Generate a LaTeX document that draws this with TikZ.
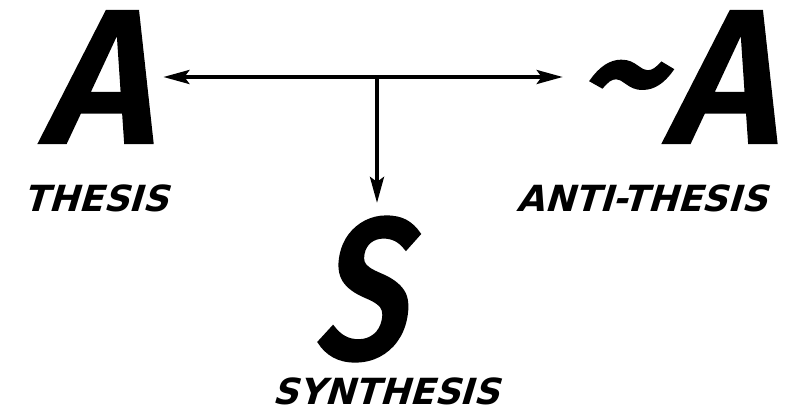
\documentclass[tikz,border=0pt]{standalone}
\usepackage{fontspec}
\newfontfamily\brushfont{Fira Sans}[UprightFont={* Medium}, FakeSlant=0.2, FakeBold=1.5]
\newfontfamily\handfont{DejaVu Sans}[UprightFont={* Bold}, FakeSlant=0.3]
\usetikzlibrary{positioning,arrows.meta,calc}

\begin{document}
\begin{tikzpicture}[
    x=1pt, y=-1pt,
    bigletter/.style={inner sep=0pt, outer sep=0pt, font=\brushfont\fontsize{190}{190}\selectfont},
    caption/.style={inner sep=0pt, font=\handfont\fontsize{36}{36}\selectfont},
    tip/.style={-{Stealth[length=26pt, width=14pt, inset=5pt]}},
    arrow/.style={line width=3.6pt},
]
\useasboundingbox (0,0) rectangle (792,406);

% ====== Letters ======
\node[bigletter] (thesisA) at (96,77) {A};
\node[bigletter] (antiA) at (676,77) {\raisebox{12pt}{\fontsize{175}{175}\selectfont\textasciitilde}A};
\node[bigletter] (synthS) at (358,289) {\addfontfeature{FakeStretch=0.8}\fontsize{200}{200}\selectfont S};

% ====== Captions ======
\node[caption] (tCap) at (96,198) {THESIS};
\node[caption] (aCap) at (642,198) {ANTI-THESIS};
\node[caption] (sCap) at (386,391) {SYNTHESIS};

% ====== Arrows ======
\draw[arrow, {Stealth[length=26pt, width=14pt, inset=5pt]}-{Stealth[length=26pt, width=14pt, inset=5pt]},
      shorten <=12pt, shorten >=14pt] (thesisA.east) -- (antiA.west);
\draw[arrow, tip, shorten >=14pt] ([xshift=19pt]synthS.north |- thesisA.east) -- ([xshift=19pt]synthS.north);

\end{tikzpicture}
\end{document}
